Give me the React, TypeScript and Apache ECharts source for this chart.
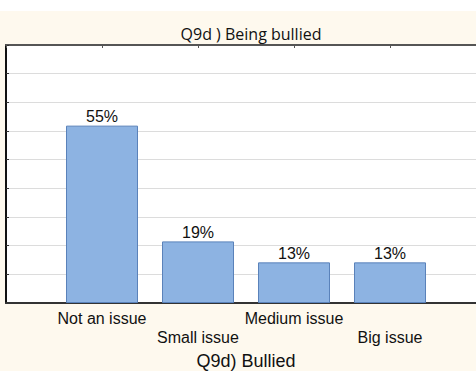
import React, { useEffect, useRef } from "react";
import * as echarts from "echarts";

const categories = ["Not an issue", "Small issue", "Medium issue", "Big issue"];
const percentValues = [55.0, 19.1, 12.6, 12.6];
const chartTitle = "Q9d ) Being bullied";
const axisTitle = "Q9d) Bullied";

export default function App() {
  const ref = useRef<HTMLDivElement>(null);
  useEffect(() => {
    document.documentElement.style.overflow = "hidden";
    document.body.style.overflow = "hidden";
    document.body.style.margin = "0";
    if (!ref.current) return;
    const chart = echarts.init(ref.current, undefined, { renderer: "svg" });
    const barData = percentValues.map((v, i) => [i + 1, v]);
    chart.setOption({
      animation: false,
      backgroundColor: "transparent",
      title: {
        text: chartTitle,
        left: 246,
        textAlign: "center",
        top: 21,
        textStyle: {
          fontFamily: "Open Sans",
          fontSize: 16,
          fontWeight: "normal",
          color: "#111",
        },
      },
      grid: {
        left: 6,
        width: 480,
        top: 45,
        height: 258,
        show: true,
        backgroundColor: "#ffffff",
        borderWidth: 0,
        outerBoundsMode: "none",
        containLabel: false,
      },
      xAxis: [
        {
          type: "value",
          min: 0,
          max: 5,
          interval: 1,
          position: "bottom",
          name: axisTitle,
          nameLocation: "middle",
          nameGap: 49,
          nameTextStyle: {
            fontFamily: "Liberation Sans",
            fontSize: 18,
            color: "#111",
          },
          axisLine: { show: true, lineStyle: { color: "#333", width: 2 } },
          axisTick: { show: true, inside: true, length: 3, lineStyle: { color: "#333" } },
          splitLine: { show: false },
          axisLabel: {
            margin: 6,
            fontFamily: "Liberation Sans",
            fontSize: 16,
            lineHeight: 19,
            color: "#111",
            showMinLabel: false,
            showMaxLabel: false,
            formatter: (v: number) => {
              const idx = Math.round(v) - 1;
              if (idx < 0 || idx >= categories.length) return "";
              return idx % 2 === 1 ? "\n" + categories[idx] : categories[idx];
            },
          },
        },
        {
          type: "value",
          min: 0,
          max: 5,
          interval: 1,
          position: "top",
          axisLine: { show: true, lineStyle: { color: "#555", width: 2 } },
          axisTick: { show: true, inside: true, length: 3, lineStyle: { color: "#555" } },
          axisLabel: { show: false },
          splitLine: { show: false },
        },
      ],
      yAxis: {
        type: "value",
        min: 0,
        max: 80,
        interval: 80 / 9,
        axisLine: { show: true, lineStyle: { color: "#111", width: 2 } },
        axisTick: { show: true, inside: true, length: 3, lineStyle: { color: "#333" } },
        axisLabel: { show: false },
        splitLine: { show: true, lineStyle: { color: "#dcdcdc", width: 1 } },
      },
      series: [
        {
          type: "bar",
          data: barData,
          barWidth: 72,
          itemStyle: {
            color: "#8DB3E2",
            borderColor: "#5A82BA",
            borderWidth: 1,
          },
          label: {
            show: true,
            position: "top",
            distance: 1,
            fontFamily: "Liberation Sans",
            fontSize: 16,
            color: "#111",
            formatter: (p: any) => Math.round(p.value[1]) + "%",
          },
        },
      ],
    });
    return () => chart.dispose();
  }, []);
  return (
    <div
      style={{
        position: "fixed",
        left: 0,
        top: 0,
        width: 496,
        height: 371,
        background: "linear-gradient(#ffffff 0px, #ffffff 11px, #FEF9EE 11px, #FEF9EE 100%)",
      }}
    >
      <div ref={ref} style={{ width: 496, height: 371 }} />
    </div>
  );
}
